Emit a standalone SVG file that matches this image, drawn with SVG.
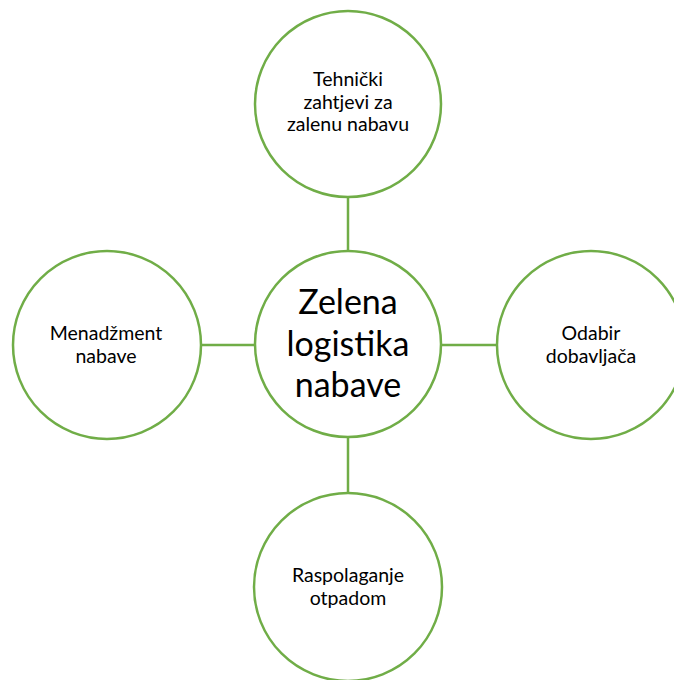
<svg xmlns="http://www.w3.org/2000/svg" width="674" height="680" viewBox="0 0 674 680">
<style>
.n{fill:#fff;stroke:#70AD47;stroke-width:2.5}
.c{stroke:#70AD47;stroke-width:2.5;fill:none}
.t{font-family:Lato,"Open Sans",sans-serif;font-size:19.5px;fill:#000;text-anchor:middle}
.big{font-family:Lato,"Open Sans",sans-serif;font-size:34px;fill:#000;text-anchor:middle}
</style>
<rect width="674" height="680" fill="#fff"/>
<g id="connectors">
<line class="c" x1="348" y1="196" x2="348" y2="252"/>
<line class="c" x1="348" y1="436" x2="348" y2="493"/>
<line class="c" x1="201" y1="345" x2="255" y2="345"/>
<line class="c" x1="441" y1="345" x2="497" y2="345"/>
</g>
<g id="top"><circle class="n" cx="348" cy="104" r="93"/>
<text class="t" x="348" y="86">Tehnički</text>
<text class="t" x="348" y="108.5">zahtjevi za</text>
<text class="t" x="348" y="131">zalenu nabavu</text></g>
<g id="center"><circle class="n" cx="348" cy="344" r="93"/>
<text class="big" x="348" y="314">Zelena</text>
<text class="big" x="348" y="356">logistika</text>
<text class="big" x="348" y="397">nabave</text></g>
<g id="left"><circle class="n" cx="107" cy="345" r="94"/>
<text class="t" x="106" y="340">Menadžment</text>
<text class="t" x="106" y="363">nabave</text></g>
<g id="right"><circle class="n" cx="591" cy="345" r="94"/>
<text class="t" x="591" y="340">Odabir</text>
<text class="t" x="591" y="363">dobavljača</text></g>
<g id="bottom"><circle class="n" cx="348" cy="587" r="94"/>
<text class="t" x="348" y="582">Raspolaganje</text>
<text class="t" x="348" y="605">otpadom</text></g>
</svg>
